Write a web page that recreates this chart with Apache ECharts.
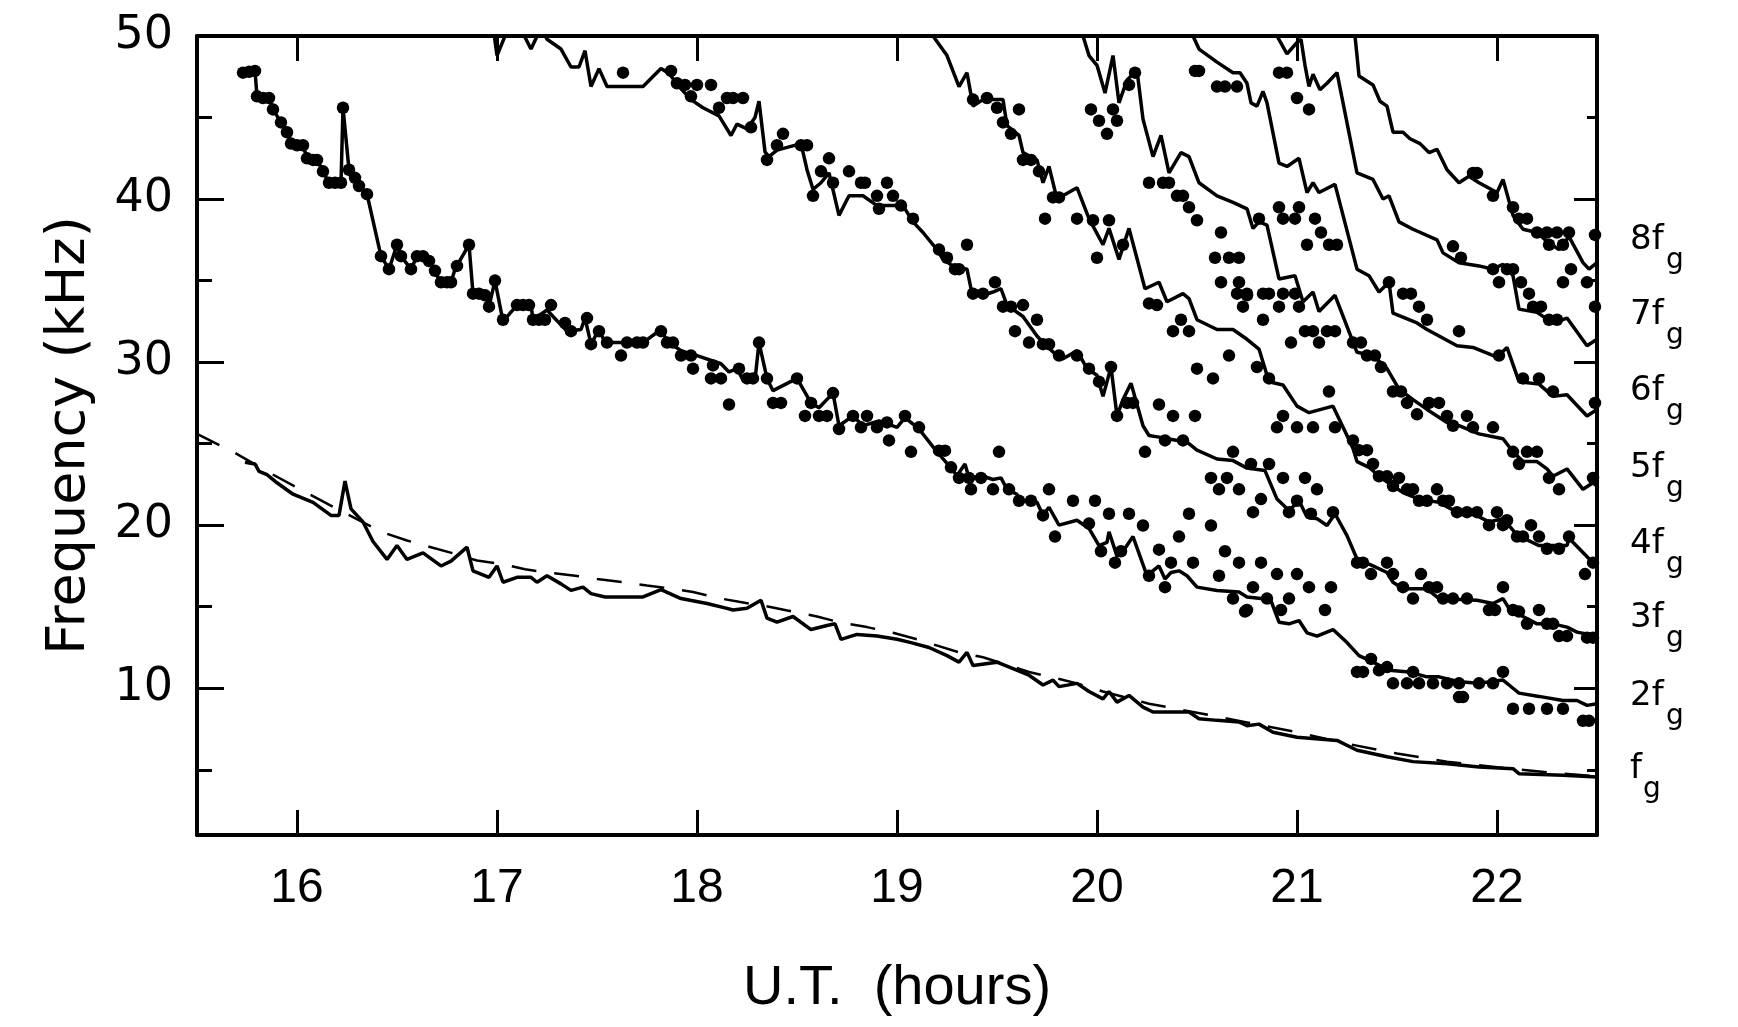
<!DOCTYPE html>
<html>
<head>
<meta charset="utf-8">
<script src="https://cdn.jsdelivr.net/npm/echarts@6/dist/echarts.min.js"></script>
<style>
  html, body { margin: 0; padding: 0; background: #fff; }
  #chart { width: 1738px; height: 1027px; }
</style>
</head>
<body>
<div id="chart"></div>
<script>
// axis ticks
const hourTicks = [16, 17, 18, 19, 20, 21, 22];
const freqMajor = [10, 20, 30, 40, 50];
const freqMinor = [5, 15, 25, 35, 45];
const harmonicNames = ['8f', '7f', '6f', '5f', '4f', '3f', '2f', 'f'];

// measured gyrofrequency fg (solid)
const fgMeasured = [
  [15.74,23.86],[15.79,23.75],[15.81,23.3],[15.85,23.1],[15.90,22.6],[15.98,21.9],[16.08,21.4],[16.17,20.6],
  [16.21,20.6],[16.24,22.7],[16.27,21.0],[16.33,20.2],[16.38,19.0],[16.45,17.9],[16.50,18.75],[16.55,17.9],
  [16.63,18.3],[16.72,17.5],[16.77,17.8],[16.85,18.65],[16.88,17.2],[16.96,16.8],[17.0,17.5],[17.03,16.5],
  [17.10,16.8],[17.17,16.8],[17.20,16.5],[17.25,16.9],[17.32,16.4],[17.37,16.0],[17.43,16.2],[17.47,15.8],
  [17.54,15.6],[17.73,15.6],[17.82,16.05],[17.92,15.5],[18.05,15.2],[18.15,14.9],[18.18,14.8],[18.25,14.9],
  [18.32,15.4],[18.35,14.3],[18.40,14.05],[18.48,14.4],[18.57,13.6],[18.65,13.85],[18.69,13.95],[18.72,13.0],
  [18.80,13.3],[18.90,13.2],[19.0,13.0],[19.07,12.8],[19.16,12.5],[19.25,12.0],[19.31,11.6],[19.35,12.2],
  [19.38,11.4],[19.50,11.6],[19.58,11.2],[19.66,10.8],[19.73,10.2],[19.78,10.5],[19.81,10.1],[19.90,10.3],
  [19.96,9.8],[20.03,9.35],[20.06,9.8],[20.10,9.15],[20.16,9.56],[20.23,8.84],[20.28,8.54],[20.46,8.54],
  [20.51,8.13],[20.60,8.03],[20.71,7.93],[20.75,7.7],[20.81,7.8],[20.88,7.3],[21.0,7.0],[21.2,6.8],
  [21.3,6.2],[21.45,5.8],[21.58,5.5],[21.75,5.37],[21.91,5.17],[22.08,5.07],[22.11,4.76],[22.33,4.66],[22.5,4.56]
];

// model fg (dashed)
const fgModel = [
  [15.5,25.6],[15.68,24.5],[15.85,23.3],[16.0,22.3],[16.2,21.0],[16.42,19.6],[16.55,19.06],[16.67,18.65],
  [16.79,18.24],[16.9,17.83],[17.02,17.63],[17.14,17.3],[17.25,17.1],[17.39,16.9],[17.5,16.7],[17.63,16.5],
  [17.75,16.3],[17.88,16.1],[17.98,15.9],[18.12,15.5],[18.21,15.3],[18.36,15.0],[18.48,14.7],[18.6,14.4],
  [18.71,14.05],[18.85,13.75],[18.98,13.4],[19.1,13.0],[19.31,12.2],[19.43,11.9],[19.66,11.0],[19.8,10.6],
  [19.9,10.3],[20.03,9.8],[20.26,9.05],[20.5,8.5],[20.75,7.9],[21.0,7.3],[21.25,6.6],[21.5,6.0],
  [21.75,5.5],[22.0,5.15],[22.25,4.85],[22.5,4.6]
];

const f2 = [
  [15.73,47.75],[15.79,47.86],[15.80,46.3],[15.86,46.2],[15.88,45.5],[15.92,44.7],[15.95,44.1],[15.97,43.4],
  [16.03,43.3],[16.05,42.5],[16.10,42.4],[16.13,41.7],[16.16,41.0],[16.22,41.0],[16.23,45.6],[16.26,41.8],
  [16.30,41.0],[16.35,40.3],[16.42,36.5],[16.46,35.7],[16.50,37.2],[16.52,36.5],[16.57,35.7],[16.60,36.5],
  [16.65,36.4],[16.68,35.7],[16.72,34.9],[16.77,34.9],[16.79,35.7],[16.86,37.2],[16.88,34.2],[16.94,34.1],
  [16.96,33.4],[16.99,35.0],[17.03,32.5],[17.10,33.5],[17.17,33.5],[17.18,32.6],[17.25,33.2],[17.28,32.8],
  [17.35,31.9],[17.42,32.0],[17.44,32.7],[17.47,31.1],[17.51,32.0],[17.54,31.2],[17.73,31.2],[17.82,32.0],
  [17.85,31.3],[17.92,30.7],[18.00,30.4],[18.12,29.9],[18.16,29.4],[18.20,29.6],[18.23,28.9],[18.29,28.9],
  [18.31,31.2],[18.35,29.0],[18.38,28.25],[18.50,29.0],[18.57,27.5],[18.61,27.2],[18.68,28.1],[18.71,26.1],
  [18.78,26.7],[18.83,26.1],[18.91,26.4],[19.0,26.0],[19.04,26.6],[19.11,25.9],[19.2,24.5],[19.26,23.65],
  [19.30,23.04],[19.34,23.75],[19.36,22.9],[19.43,23.0],[19.48,22.8],[19.52,22.9],[19.55,22.2],[19.60,21.9],
  [19.61,21.5],[19.70,21.4],[19.73,20.6],[19.76,21.1],[19.81,20.0],[19.90,20.3],[19.96,19.8],[20.01,18.75],
  [20.05,18.95],[20.06,19.6],[20.10,18.1],[20.13,18.4],[20.18,19.3],[20.25,16.9],[20.27,17.1],[20.31,17.5],
  [20.34,16.7],[20.37,17.1],[20.41,17.2],[20.45,16.9],[20.50,16.2],[20.60,16.0],[20.71,15.9],[20.75,15.6],
  [20.82,15.5],[20.86,15.7],[20.91,14.05],[20.96,13.95],[21.01,14.15],[21.05,13.4],[21.10,13.2],[21.18,13.6],
  [21.25,12.8],[21.31,12.0],[21.38,11.6],[21.46,11.1],[21.56,11.0],[21.65,10.7],[21.71,10.7],[21.81,10.4],
  [21.91,10.3],[22.03,10.5],[22.08,10.0],[22.11,9.7],[22.21,9.5],[22.33,9.25],[22.40,9.25],[22.45,8.95],[22.5,9.05]
];

const f3 = [
  [16.97,51.5],[17.0,48.8],[17.06,50.6],[17.12,50.4],[17.17,49.2],[17.22,50.5],[17.25,49.8],[17.32,49.2],
  [17.37,48.1],[17.41,48.1],[17.44,49.1],[17.47,46.9],[17.51,48.0],[17.55,46.9],[17.73,46.9],[17.82,48.0],
  [17.86,47.7],[17.91,46.9],[17.97,46.1],[18.03,45.6],[18.11,45.1],[18.17,43.9],[18.20,44.6],[18.25,44.3],
  [18.29,45.0],[18.31,46.0],[18.34,42.9],[18.36,42.6],[18.40,43.0],[18.52,43.4],[18.55,41.8],[18.58,40.6],
  [18.62,41.0],[18.66,41.6],[18.71,39.0],[18.76,40.2],[18.83,40.2],[18.90,39.6],[19.0,39.6],[19.03,39.6],
  [19.08,38.6],[19.13,37.95],[19.2,36.9],[19.23,36.3],[19.28,35.9],[19.35,35.7],[19.37,34.5],[19.43,34.1],
  [19.48,34.3],[19.52,34.5],[19.55,33.5],[19.63,32.8],[19.70,31.6],[19.73,31.2],[19.80,30.4],[19.83,30.2],
  [19.90,30.7],[19.95,29.6],[20.0,29.2],[20.03,27.9],[20.07,29.7],[20.10,26.7],[20.13,27.7],[20.17,28.7],
  [20.23,26.1],[20.26,25.5],[20.31,25.4],[20.35,25.3],[20.45,25.1],[20.50,24.6],[20.60,24.06],[20.68,23.96],
  [20.75,23.5],[20.84,23.35],[20.90,21.6],[20.96,20.9],[21.01,21.5],[21.05,20.5],[21.10,20.4],[21.15,19.98],
  [21.19,20.7],[21.25,19.36],[21.30,17.93],[21.38,17.5],[21.45,17.1],[21.48,16.5],[21.53,16.1],[21.65,16.1],
  [21.71,15.5],[21.90,15.4],[21.98,15.2],[22.03,15.5],[22.06,14.9],[22.13,14.4],[22.20,13.95],[22.28,13.95],
  [22.35,13.75],[22.40,13.44],[22.5,13.2]
];

const f4 = [
  [19.15,50.6],[19.18,50.0],[19.25,48.8],[19.31,46.9],[19.35,47.75],[19.38,45.7],[19.43,46.1],[19.53,46.1],
  [19.55,44.5],[19.61,43.9],[19.63,42.85],[19.70,42.4],[19.73,41.0],[19.76,42.0],[19.80,40.0],[19.90,40.7],
  [19.96,38.8],[20.03,37.2],[20.06,38.2],[20.11,36.3],[20.16,38.2],[20.24,34.5],[20.31,34.9],[20.35,33.7],
  [20.43,34.2],[20.46,33.9],[20.50,32.6],[20.60,32.0],[20.68,32.0],[20.75,31.4],[20.81,30.8],[20.86,28.8],
  [20.93,28.6],[21.0,27.3],[21.06,26.9],[21.18,27.3],[21.25,25.5],[21.28,24.7],[21.30,23.9],[21.36,23.55],
  [21.41,23.0],[21.48,22.4],[21.53,22.0],[21.61,21.6],[21.71,21.4],[21.80,20.8],[21.88,20.7],[21.96,20.2],
  [22.03,20.4],[22.10,19.4],[22.21,18.75],[22.35,18.75],[22.36,19.2],[22.48,17.7],[22.5,17.5]
];

const f5 = [
  [19.9,50.8],[19.93,50.0],[19.96,48.8],[20.0,48.2],[20.04,46.5],[20.08,48.8],[20.11,45.9],[20.15,47.3],
  [20.2,47.9],[20.23,44.9],[20.28,42.6],[20.32,43.9],[20.36,41.6],[20.42,42.85],[20.46,42.6],[20.51,41.0],
  [20.60,40.2],[20.68,39.8],[20.75,39.4],[20.78,38.2],[20.81,38.6],[20.85,38.4],[20.91,35.1],[20.99,35.3],
  [21.03,33.7],[21.08,34.3],[21.11,33.1],[21.19,34.1],[21.30,30.6],[21.38,30.4],[21.45,29.6],[21.51,28.35],
  [21.58,27.7],[21.65,27.1],[21.75,26.3],[21.81,26.1],[21.91,25.6],[22.03,25.3],[22.08,24.5],[22.13,23.9],
  [22.2,23.9],[22.25,23.45],[22.28,23.0],[22.35,23.45],[22.43,22.2],[22.48,22.6],[22.5,22.4]
];

const f6 = [
  [20.45,50.6],[20.48,50.0],[20.51,49.2],[20.60,48.4],[20.68,47.75],[20.715,47.75],[20.75,47.1],[20.77,45.9],
  [20.80,45.7],[20.83,46.6],[20.85,45.9],[20.91,42.2],[20.95,42.0],[21.01,42.5],[21.05,40.4],[21.08,41.0],
  [21.11,40.4],[21.19,40.9],[21.30,35.7],[21.36,35.3],[21.41,34.3],[21.46,34.9],[21.48,33.0],[21.60,32.4],
  [21.65,32.0],[21.80,31.0],[21.88,30.9],[22.0,30.3],[22.05,30.9],[22.11,28.8],[22.21,28.65],[22.28,27.9],
  [22.35,28.0],[22.45,26.7],[22.5,27.1]
];

const f7 = [
  [20.88,50.5],[20.90,50.0],[20.95,48.9],[21.0,49.6],[21.02,49.8],[21.04,48.2],[21.06,46.9],[21.08,47.65],
  [21.115,46.7],[21.15,47.1],[21.2,47.75],[21.30,41.6],[21.38,41.2],[21.43,40.0],[21.46,40.2],[21.51,38.6],
  [21.58,38.15],[21.70,37.5],[21.73,36.7],[21.81,36.1],[21.91,35.9],[21.98,35.7],[22.03,36.0],[22.08,35.3],
  [22.11,33.25],[22.20,33.05],[22.28,32.4],[22.35,32.7],[22.45,31.0],[22.5,31.4]
];

const f8 = [
  [21.28,51.0],[21.29,50.0],[21.30,48.8],[21.31,47.55],[21.38,47.0],[21.415,46.0],[21.45,45.7],[21.48,44.1],
  [21.53,44.1],[21.565,43.7],[21.615,43.4],[21.66,42.85],[21.70,43.05],[21.75,41.8],[21.81,41.0],[21.86,41.4],
  [21.91,41.0],[22.0,40.4],[22.03,41.2],[22.08,39.0],[22.13,38.15],[22.20,37.95],[22.25,37.4],[22.31,36.9],
  [22.36,37.7],[22.43,36.1],[22.46,35.7],[22.5,36.1]
];

// observed emission bands (dots)
const observedDots = [
  // early 2fg band
  [15.73,47.75],[15.76,47.8],[15.79,47.86],[15.80,46.3],[15.83,46.2],[15.86,46.2],[15.88,45.5],[15.92,44.7],
  [15.95,44.1],[15.97,43.4],[16.0,43.3],[16.03,43.3],[16.05,42.5],[16.08,42.4],[16.10,42.4],[16.13,41.7],
  [16.16,41.0],[16.19,41.0],[16.22,41.0],[16.23,45.6],[16.26,41.8],[16.29,41.3],[16.31,40.8],[16.35,40.3],
  [16.42,36.5],[16.46,35.7],[16.50,37.2],[16.52,36.5],[16.57,35.7],[16.60,36.5],[16.63,36.5],[16.66,36.2],
  [16.69,35.6],[16.72,34.9],[16.75,34.9],[16.77,34.9],[16.80,35.9],[16.86,37.2],[16.88,34.2],[16.91,34.2],
  [16.94,34.1],[16.96,33.4],[16.99,35.0],[17.03,32.6],[17.10,33.5],[17.13,33.5],[17.16,33.5],[17.18,32.6],
  [17.21,32.6],[17.24,32.6],
  [17.27,33.5],[17.34,32.4],[17.37,31.9],[17.45,32.7],[17.47,31.1],[17.51,31.9],[17.55,31.2],[17.62,30.4],
  [17.65,31.2],[17.70,31.2],[17.73,31.2],[17.82,31.9],[17.85,31.2],[17.88,31.2],[17.92,30.4],[17.97,30.4],
  [17.98,29.6],[18.08,29.8],[18.07,29.0],[18.12,29.0],[18.16,27.4],[18.21,29.6],[18.25,29.0],[18.28,29.0],
  [18.31,31.2],[18.35,29.0],[18.38,27.5],[18.42,27.5],[18.50,29.0],[18.57,27.5],[18.54,26.7],[18.61,26.7],
  [18.65,26.7],[18.68,28.1],[18.71,25.9],[18.78,26.7],[18.85,26.7],[18.82,26.0],[18.90,26.0],[18.95,26.3],
  [18.96,25.2],
  // 3fg band
  [17.63,47.75],[17.87,47.86],[17.90,47.1],[17.94,47.0],[18.0,47.0],[18.07,47.0],[17.97,46.3],[18.15,46.2],
  [18.18,46.2],[18.23,46.2],[18.11,45.6],[18.27,44.4],[18.40,43.3],[18.43,44.0],[18.35,42.4],[18.52,43.3],
  [18.55,43.3],[18.58,40.2],[18.62,41.7],[18.66,42.5],[18.68,41.0],[18.76,41.7],[18.82,41.0],[18.84,41.0],
  [18.90,40.2],[18.91,39.4],[18.95,41.0],[18.98,40.2],
  [19.02,39.6],[19.08,38.8],[19.35,37.2],[19.21,36.9],[19.25,36.4],[19.29,35.7],[19.31,35.7],[19.38,34.2],
  [19.43,34.2],[19.49,34.9],[19.53,33.4],[19.57,33.4],[19.63,33.5],[19.70,32.6],[19.59,31.9],[19.66,31.2],
  [19.73,31.1],[19.76,31.1],[19.81,30.4],[19.90,30.4],[19.96,29.6],[20.01,28.8],[20.07,29.7],[20.10,26.7],
  [20.15,27.5],[20.18,27.5],[19.04,26.7],[19.11,26.0],
  // 4fg / 5fg bands 19-21
  [19.38,46.1],[19.45,46.2],[19.50,45.6],[19.61,45.5],[19.53,44.7],[19.57,44.0],[19.63,42.4],[19.67,42.4],
  [19.71,41.7],[19.74,38.8],[19.78,40.1],[19.81,40.1],[19.90,38.8],[19.98,38.7],[20.06,38.7],[20.0,36.4],
  [20.13,37.2],[19.97,45.5],[20.01,44.8],[20.05,44.0],[20.10,44.8],[20.08,45.5],[20.19,47.75],[20.16,47.0],
  [20.26,33.6],[20.30,33.5],[20.42,32.6],[20.38,31.9],[20.46,31.9],[20.26,41.0],[20.33,41.0],[20.36,41.0],
  [20.40,40.2],[20.43,40.2],[20.46,39.5],[20.50,38.7],[20.62,37.95],[20.59,36.4],[20.66,36.4],[20.71,36.4],
  [20.62,34.9],[20.71,34.9],[20.70,34.2],[20.75,34.2],[20.73,33.4],[20.49,47.86],[20.51,47.86],[20.60,46.9],
  [20.64,46.9],[20.70,46.9],[20.66,30.4],[20.50,29.6],[20.58,29.0],[20.31,27.4],[20.38,26.7],[20.49,26.7],
  // 21-22.5 upper bands
  [20.91,47.75],[20.95,47.75],[21.0,46.2],[21.06,45.5],[20.91,39.5],[21.01,39.5],[20.93,38.8],[20.99,38.8],
  [21.09,38.8],[21.12,37.95],[21.05,37.2],[21.16,37.2],[21.20,37.2],[20.81,38.8],[20.75,34.1],[20.83,34.2],
  [20.86,34.2],[20.93,34.2],[20.99,34.2],[20.91,33.4],[21.01,33.4],[20.83,32.6],[21.04,31.9],[21.08,31.9],
  [21.15,31.9],[21.19,31.9],[20.97,31.2],[21.11,31.2],[21.28,31.2],[21.32,31.2],[21.35,30.4],[21.39,30.4],
  [21.42,29.7],[20.80,29.7],[20.86,29.0],[21.16,28.2],[21.48,28.2],[21.52,28.2],[21.55,27.5],[21.66,27.5],
  [21.71,27.5],[21.60,26.8],[21.75,26.7],[21.85,26.7],[20.93,26.7],[20.90,26.0],[21.0,26.0],[21.08,26.0],
  [21.19,26.0],[21.78,26.1],[21.88,26.0],[21.98,26.0],[21.46,34.9],[21.53,34.2],[21.57,34.2],[21.61,33.4],
  [21.65,32.6],[21.81,31.9],[22.01,30.4],[21.78,37.1],[21.82,36.4],[21.98,35.7],[22.01,34.9],[22.05,35.7],
  [22.08,35.7],[22.12,34.9],[22.16,34.2],[22.18,33.4],[22.22,33.4],[22.26,32.6],[22.30,32.6],[21.88,41.6],
  [21.90,41.6],[21.98,40.2],[22.08,39.5],[22.11,38.8],[22.15,38.8],[22.20,37.95],[22.25,37.95],[22.30,37.95],
  [22.36,37.95],[22.26,37.2],[22.33,37.2],[22.49,37.8],[22.37,35.7],[22.33,34.9],[22.45,34.9],[22.49,33.4],
  [22.13,29.0],[22.21,29.0],[22.28,28.2],[22.49,27.5],
  // 2fg-4fg bands 19-20.75
  [19.07,24.5],[19.21,24.57],[19.24,24.57],[19.51,24.5],[19.27,23.55],[19.31,22.9],[19.36,22.9],[19.42,22.9],
  [19.37,22.2],[19.48,22.2],[19.56,22.2],[19.61,21.5],[19.67,21.5],[19.73,20.6],[19.76,22.2],[19.88,21.5],
  [19.99,21.5],[19.96,20.1],[20.06,20.7],[20.16,20.7],[20.23,19.98],[19.79,19.3],[20.02,18.4],[20.09,17.7],
  [20.12,18.4],[20.26,16.9],[20.31,18.5],[20.34,16.2],[20.37,17.7],[20.41,19.3],[20.46,20.7],[20.48,17.7],
  [20.57,19.98],[20.61,16.9],[20.64,18.4],[20.71,17.7],[20.74,14.7],[20.68,15.5],[20.24,24.5],[20.34,25.2],
  [20.43,25.2],[20.57,22.9],[20.65,22.9],[20.61,22.2],[20.71,22.2],[20.68,24.5],
  // lower bands 20.75-22.5
  [20.77,23.75],[20.86,23.75],[20.93,22.9],[21.04,22.9],[21.10,22.2],[20.82,21.6],[20.78,20.8],[21.0,21.5],
  [20.96,20.8],[21.07,20.7],[21.18,20.8],[20.82,17.7],[20.78,16.2],[20.90,17.0],[21.0,17.0],[21.06,16.2],
  [21.17,16.2],[20.96,15.5],[20.92,14.8],[21.14,14.8],[20.75,14.8],[20.85,15.5],
  [21.30,11.0],[21.33,11.0],[21.37,11.8],[21.41,11.1],[21.45,11.3],[21.48,10.3],[21.55,10.3],[21.58,11.0],
  [21.61,10.3],[21.68,10.3],[21.75,10.3],[21.81,10.3],[21.91,10.3],[21.98,10.3],[21.81,9.46],[21.83,9.46],
  [22.03,11.0],[22.08,8.74],[22.16,8.74],[22.25,8.74],[22.33,8.74],[22.43,8.0],[22.46,8.0],
  [21.30,17.7],[21.33,17.7],[21.37,17.0],[21.45,17.7],[21.48,17.0],[21.53,16.2],[21.58,15.5],[21.62,17.0],
  [21.66,16.2],[21.70,16.2],[21.73,15.5],[21.78,15.5],[21.85,15.5],[21.96,14.8],[21.99,14.8],[22.03,16.2],
  [22.08,14.8],[22.11,14.7],[22.15,13.95],[22.21,14.8],[22.25,13.95],[22.28,13.95],[22.31,13.2],[22.35,13.2],
  [22.45,13.1],[22.48,13.1],
  [21.28,25.2],[21.31,24.6],[21.35,24.6],[21.38,23.75],[21.41,23.0],[21.45,23.0],[21.48,22.4],[21.51,22.9],
  [21.55,22.2],[21.58,22.2],[21.61,21.5],[21.65,21.5],[21.70,22.2],[21.73,21.5],[21.76,21.5],[21.80,20.8],
  [21.85,20.8],[21.90,20.8],[21.96,20.0],[22.0,20.8],[22.03,20.0],[22.05,20.3],[22.10,19.3],[22.13,19.3],
  [22.17,20.0],[22.21,19.3],[22.25,18.55],[22.31,18.55],[22.36,19.3],[22.44,17.0],[22.48,17.7],
  [22.15,24.5],[22.20,24.5],[22.08,24.5],[22.11,23.75],[22.26,22.9],[22.31,22.2],[22.48,22.9]
];

const chart = echarts.init(document.getElementById('chart'), null, { renderer: 'canvas' });

const black = '#000';
const tickStyle = { color: black, width: 3 };

const harmonicSeries = [f2, f3, f4, f5, f6, f7, f8].map((d, i) => ({
  name: (i + 2) + 'fg',
  type: 'line',
  data: d,
  symbol: 'none',
  clip: true,
  lineStyle: { color: black, width: 3.5 },
  z: 2
}));

// right-hand harmonic labels (positions in px)
const labelTop = [241, 316, 392, 469, 545, 619, 697, 770];
const labelGraphics = [];
harmonicNames.forEach((name, i) => {
  labelGraphics.push({
    type: 'text', left: 1630, top: labelTop[i] - 18,
    style: { text: name, font: '34px "DejaVu Sans"', fill: black }
  });
  labelGraphics.push({
    type: 'text', left: 1630 + (name.length === 1 ? 13 : 36), top: labelTop[i] + 6,
    style: { text: 'g', font: '28px "DejaVu Sans"', fill: black }
  });
});

const yBase = { type: 'value', min: 1, max: 50, splitLine: { show: false } };

chart.setOption({
  animation: false,
  backgroundColor: '#fff',
  grid: { left: 197, right: 141, top: 36, bottom: 192 },
  xAxis: [
    {
      type: 'value', min: 15.5, max: 22.5, position: 'bottom',
      name: 'U.T.  (hours)', nameLocation: 'middle', nameGap: 126,
      nameTextStyle: { fontFamily: 'Liberation Sans', fontSize: 56, color: black },
      axisLine: { lineStyle: { color: black, width: 4 } },
      axisTick: { customValues: hourTicks, inside: true, length: 25, lineStyle: tickStyle },
      axisLabel: { customValues: hourTicks, margin: 30, fontFamily: 'Liberation Sans', fontSize: 48, color: black },
      splitLine: { show: false }
    },
    {
      type: 'value', min: 15.5, max: 22.5, position: 'top',
      axisLine: { lineStyle: { color: black, width: 4 } },
      axisTick: { customValues: hourTicks, inside: true, length: 25, lineStyle: tickStyle },
      axisLabel: { show: false },
      splitLine: { show: false }
    }
  ],
  yAxis: [
    Object.assign({}, yBase, {
      position: 'left',
      name: 'Frequency (kHz)', nameLocation: 'middle', nameGap: 100,
      nameTextStyle: { fontFamily: 'DejaVu Sans', fontSize: 54, color: black },
      axisLine: { show: true, lineStyle: { color: black, width: 4 } },
      axisTick: { customValues: freqMajor, inside: true, length: 27, lineStyle: tickStyle },
      axisLabel: { customValues: freqMajor, margin: 24, fontFamily: 'DejaVu Sans', fontSize: 46, color: black }
    }),
    Object.assign({}, yBase, {
      position: 'left',
      axisLine: { show: false },
      axisTick: { customValues: freqMinor, inside: true, length: 15, lineStyle: tickStyle },
      axisLabel: { show: false }
    }),
    Object.assign({}, yBase, {
      position: 'right',
      axisLine: { show: true, lineStyle: { color: black, width: 4 } },
      axisTick: { customValues: freqMajor, inside: true, length: 23, lineStyle: tickStyle },
      axisLabel: { show: false }
    }),
    Object.assign({}, yBase, {
      position: 'right',
      axisLine: { show: false },
      axisTick: { customValues: freqMinor, inside: true, length: 10, lineStyle: tickStyle },
      axisLabel: { show: false }
    })
  ],
  graphic: labelGraphics,
  series: [
    {
      name: 'fg model', type: 'line', data: fgModel, symbol: 'none',
      lineStyle: { color: black, width: 2.5, type: [25, 18] }, z: 2
    },
    {
      name: 'fg', type: 'line', data: fgMeasured, symbol: 'none',
      lineStyle: { color: black, width: 3.5 }, z: 2
    },
    ...harmonicSeries,
    {
      name: 'observed', type: 'scatter', data: observedDots,
      symbol: 'circle', symbolSize: 12.5, itemStyle: { color: black, opacity: 1 }, z: 3
    }
  ]
});
</script>
</body>
</html>
